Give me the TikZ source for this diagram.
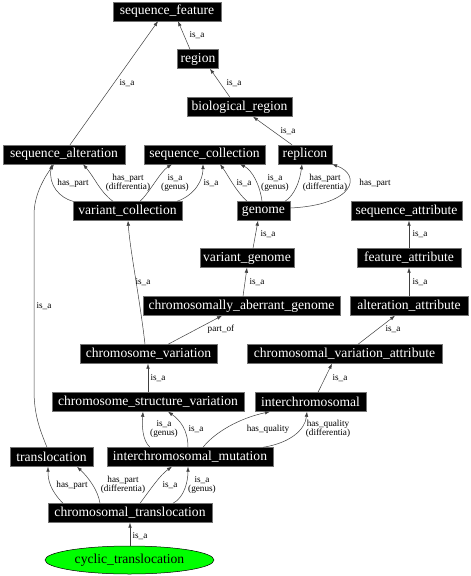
\documentclass[tikz,border=0pt]{standalone}
\usepackage{fontspec}
\setmainfont{Liberation Serif}
\usetikzlibrary{arrows.meta,shapes.geometric}
\definecolor{brightgreen}{RGB}{0,255,0}
\begin{document}
\begin{tikzpicture}[x=1pt,y=-1pt,
  box/.style={fill=black,draw=black!55,line width=0.4pt,text=white,font=\fontsize{13.6}{14}\selectfont,minimum height=19pt,inner sep=0pt,anchor=center},
  lbl/.style={font=\fontsize{9.2}{8.4}\selectfont,align=center,inner sep=0pt},
  e/.style={draw=black!75,line width=0.5pt,-{Latex[length=5pt,width=3.6pt]}}]
\useasboundingbox[fill=white] (0,0) rectangle (471,576);

% nodes
\node[box,minimum width=108pt] (sf) at (167,11.5) {sequence\_feature};
\node[box,minimum width=41pt] (region) at (198,59) {region};
\node[box,minimum width=105pt] (br) at (239.5,107) {biological\_region};
\node[box,minimum width=122pt] (sa) at (64,154.5) {sequence\_alteration};
\node[box,minimum width=121pt] (sc) at (204.5,154.5) {sequence\_collection};
\node[box,minimum width=54pt] (rep) at (305,154.5) {replicon};
\node[box,minimum width=109pt] (vc) at (127.5,211) {variant\_collection};
\node[box,minimum width=53pt] (gen) at (263.5,211) {genome};
\node[box,minimum width=111pt] (sattr) at (406.5,211) {sequence\_attribute};
\node[box,minimum width=94pt] (vg) at (247,258) {variant\_genome};
\node[box,minimum width=104pt] (fa) at (409,258) {feature\_attribute};
\node[box,minimum width=197pt] (cag) at (241.5,306) {chromosomally\_aberrant\_genome};
\node[box,minimum width=118pt] (aa) at (409,306) {alteration\_attribute};
\node[box,minimum width=137pt] (cv) at (148.5,354) {chromosome\_variation};
\node[box,minimum width=195pt] (cva) at (344.5,354) {chromosomal\_variation\_attribute};
\node[box,minimum width=192pt] (csv) at (148,402) {chromosome\_structure\_variation};
\node[box,minimum width=111pt] (ic) at (310.5,402) {interchromosomal};
\node[box,minimum width=83pt] (tr) at (51.5,457) {translocation};
\node[box,minimum width=166pt] (im) at (190,457) {interchromosomal\_mutation};
\node[box,minimum width=164pt] (ct) at (130,513) {chromosomal\_translocation};
\node[ellipse,fill=brightgreen,draw=black,line width=0.5pt,minimum width=169pt,minimum height=28pt,inner sep=0pt,font=\fontsize{13.6}{14}\selectfont] (cyc) at (129.5,560) {cyclic\_translocation};

% edges
\draw[e] ([xshift=-8pt]region.north) -- ([xshift=11pt]sf.south);
\draw[e] ([xshift=6pt]sa.north) -- ([xshift=-9pt]sf.south);
\draw[e] ([xshift=-9.5pt]br.north) -- ([xshift=12pt]region.south);
\draw[e] ([xshift=-13pt]rep.north) -- ([xshift=13.5pt]br.south);

\draw[e] ([xshift=-54.5pt]vc.north) .. controls (60,198) and (48,185) .. ([xshift=-12pt]sa.south);
\draw[e] ([xshift=-14.5pt]vc.north) .. controls (100,192) and (95,178) .. ([xshift=19pt]sa.south);
\draw[e] ([xshift=12.5pt]vc.north) .. controls (150,192) and (160,172) .. ([xshift=-32.5pt]sc.south);
\draw[e] ([xshift=49.5pt]vc.north) .. controls (195,195) and (203,180) .. ([xshift=-1.5pt]sc.south);
\draw[e] ([xshift=-16.5pt]gen.north) .. controls (235,190) and (228,175) .. ([xshift=15.5pt]sc.south);
\draw[e] ([xshift=-1.5pt]gen.north) .. controls (260,185) and (252,170) .. ([xshift=35.5pt]sc.south);
\draw[e] ([xshift=21.5pt]gen.north) .. controls (295,195) and (300,180) .. ([xshift=-3pt]rep.south);
\draw[e] ([yshift=3pt]gen.east) .. controls (355,205) and (362,175) .. (rep.south east);

\draw[e] ([xshift=6pt]vg.north) -- ([xshift=-5.5pt]gen.south);
\draw[e] ([xshift=1.5pt]cag.north) -- (vg.south);
\draw[e] ([xshift=-3.5pt]cv.north) .. controls (140,300) and (130,250) .. ([xshift=0.5pt]vc.south);
\draw[e] ([xshift=19.5pt]cv.north) -- ([xshift=-19.5pt]cag.south);
\draw[e] (fa.north) -- ([xshift=2.5pt]sattr.south);
\draw[e] (aa.north) -- (fa.south);
\draw[e] ([xshift=13.5pt]cva.north) -- ([xshift=-14pt]aa.south);
\draw[e] ([xshift=7.5pt]ic.north) -- ([xshift=-12.5pt]cva.south);
\draw[e] (csv.north) -- ([xshift=-0.5pt]cv.south);

\draw[e] ([xshift=-4.5pt]tr.north) .. controls (40,430) and (34,415) .. (34,390) -- (34,215) .. controls (34,195) and (44,178) .. ([xshift=-10pt]sa.south);

\draw[e] ([xshift=-40pt]im.north) .. controls (142,440) and (142,425) .. ([xshift=-5pt]csv.south);
\draw[e] ([xshift=-2pt]im.north) .. controls (188,430) and (180,420) .. ([xshift=20pt]csv.south);
\draw[e] ([xshift=13pt]im.north) .. controls (215,432) and (240,418) .. ([xshift=-40.5pt]ic.south);
\draw[e] ([xshift=73pt]im.north) .. controls (290,443) and (305,430) .. ([xshift=-3.5pt]ic.south);

\draw[e] ([xshift=-67pt]ct.north) .. controls (50,490) and (48,480) .. ([xshift=-3.5pt]tr.south);
\draw[e] ([xshift=-30pt]ct.north) .. controls (98,490) and (88,477) .. ([xshift=25.5pt]tr.south);
\draw[e] ([xshift=10pt]ct.north) .. controls (150,490) and (160,475) .. ([xshift=-18pt]im.south);
\draw[e] ([xshift=43pt]ct.north) .. controls (185,497) and (188,480) .. ([xshift=-2pt]im.south);
\draw[e] ([xshift=0.5pt]cyc.north) -- (ct.south);

% labels
\node[lbl] (l1) at (197,35) {is\_a};
\node[lbl] (l2) at (127,83) {is\_a};
\node[lbl] (l3) at (234,83) {is\_a};
\node[lbl] (l4) at (288,131) {is\_a};
\node[lbl] (l5) at (73,183) {has\_part};
\node[lbl] (l6) at (128,183) {has\_part\\(differentia)};
\node[lbl] (l7) at (175,183) {is\_a\\(genus)};
\node[lbl] (l8) at (211,183) {is\_a};
\node[lbl] (l9) at (244,183) {is\_a};
\node[lbl] (l10) at (275,183) {is\_a\\(genus)};
\node[lbl] (l11) at (325,183) {has\_part\\(differentia)};
\node[lbl] (l12) at (375,183) {has\_part};
\node[lbl] (l13) at (268,234) {is\_a};
\node[lbl] (l14) at (257,282) {is\_a};
\node[lbl] (l15) at (143,282) {is\_a};
\node[lbl] (l16) at (221,329) {part\_of};
\node[lbl] (l17) at (420,234) {is\_a};
\node[lbl] (l18) at (420,282) {is\_a};
\node[lbl] (l19) at (393,329) {is\_a};
\node[lbl] (l20) at (340,378) {is\_a};
\node[lbl] (l21) at (158,378) {is\_a};
\node[lbl] (l22) at (44,306) {is\_a};
\node[lbl] (l23) at (164,429) {is\_a\\(genus)};
\node[lbl] (l24) at (196,429) {is\_a};
\node[lbl] (l25) at (268,429) {has\_quality};
\node[lbl] (l26) at (328,429) {has\_quality\\(differentia)};
\node[lbl] (l27) at (72,485) {has\_part};
\node[lbl] (l28) at (123,485) {has\_part\\(differentia)};
\node[lbl] (l29) at (170,485) {is\_a};
\node[lbl] (l30) at (202,485) {is\_a\\(genus)};
\node[lbl] (l31) at (140,536) {is\_a};
\end{tikzpicture}
\end{document}
